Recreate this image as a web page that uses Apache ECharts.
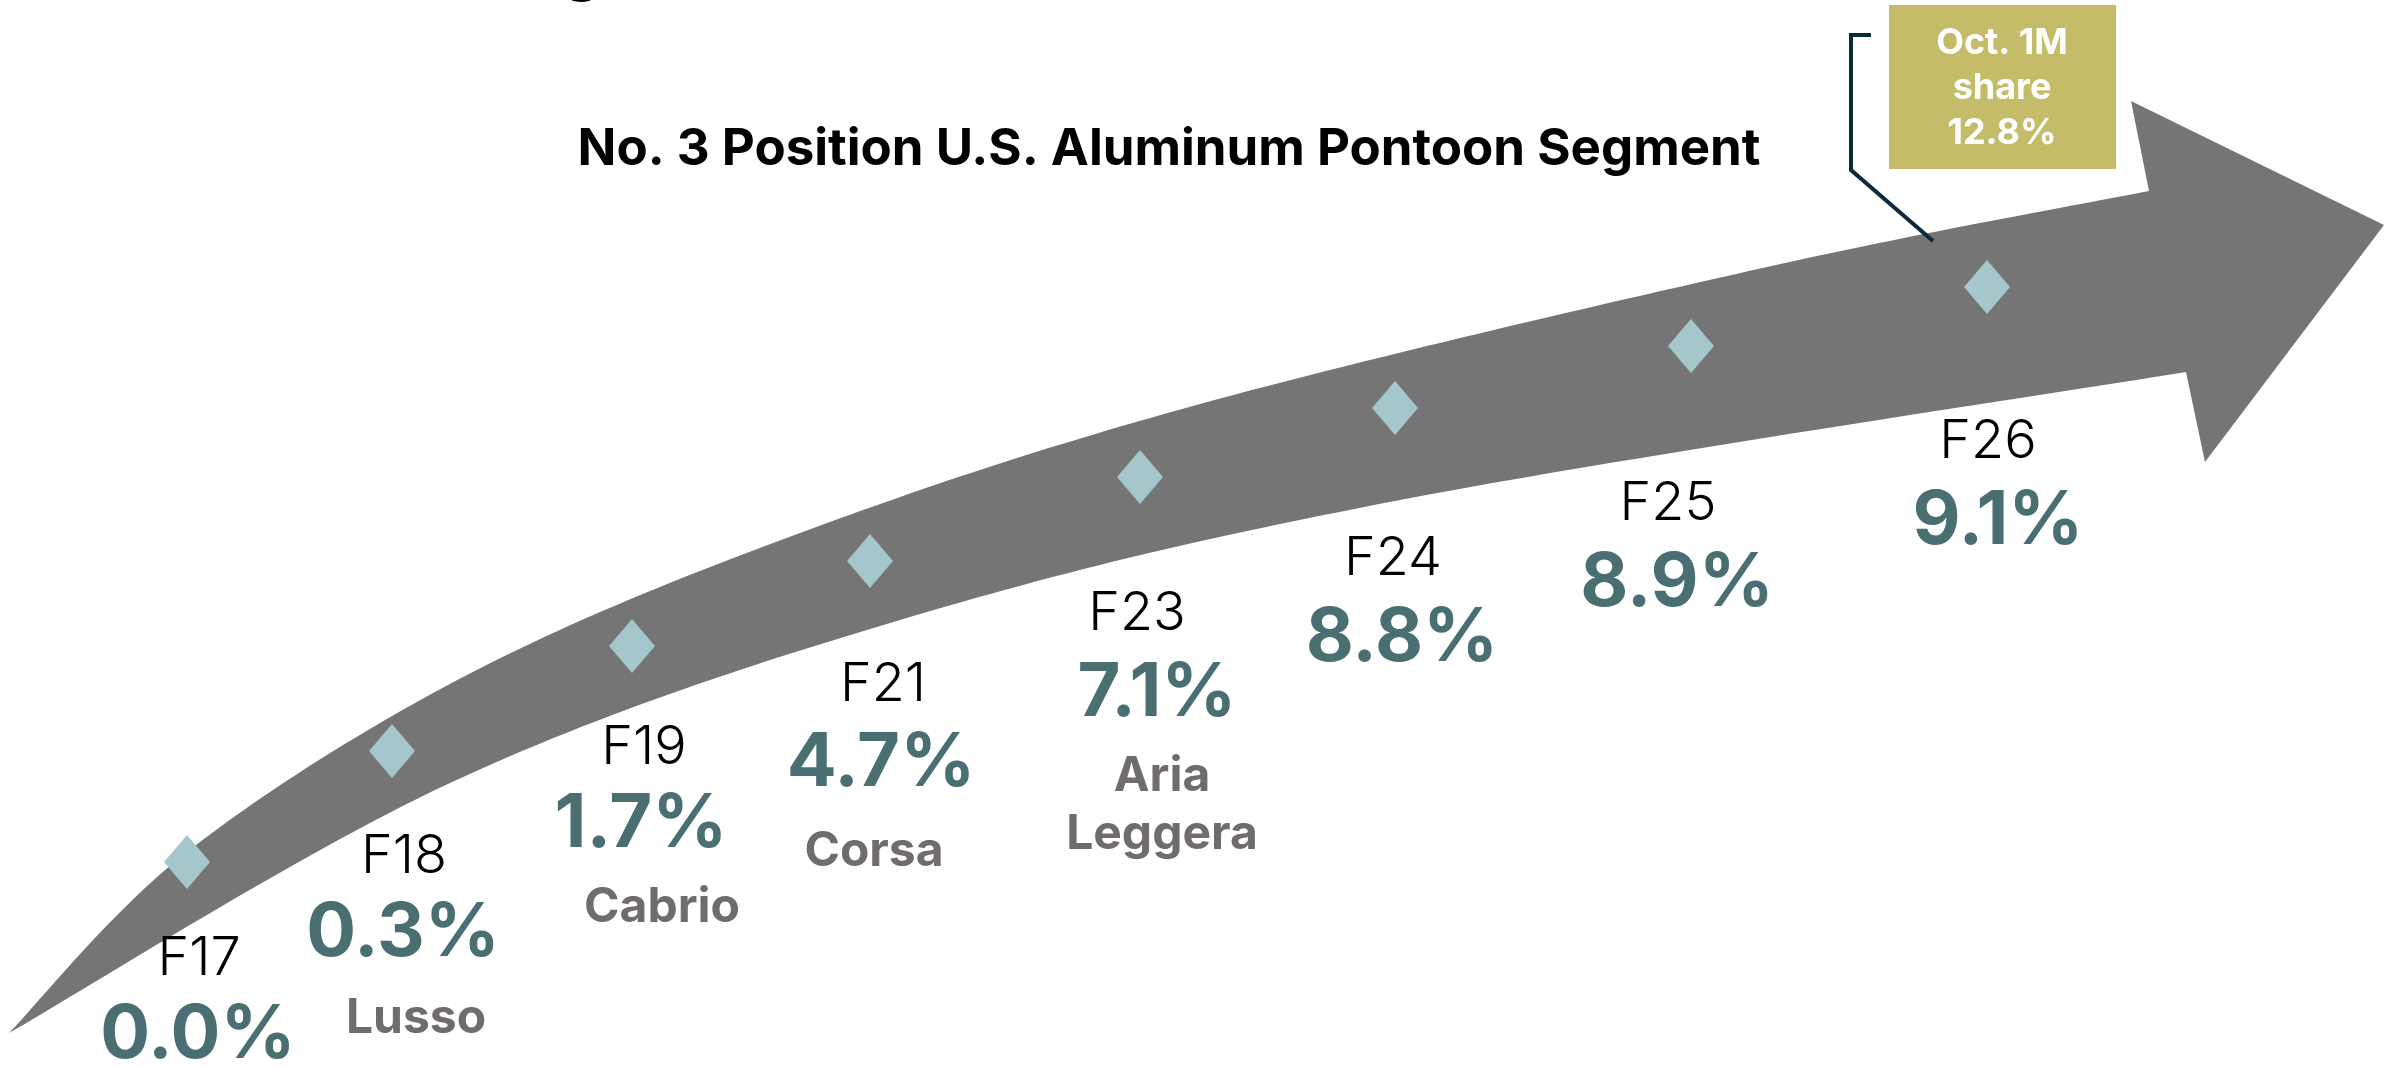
<!DOCTYPE html>
<html><head><meta charset="utf-8">
<script src="https://cdn.jsdelivr.net/npm/echarts@6/dist/echarts.min.js"></script>
<style>html,body{margin:0;padding:0;background:#fff;}#c{width:2394px;height:1068px;}</style>
</head><body><div id="c"></div>
<script>
// ---------- data ----------
const categories = ['F17', 'F18', 'F19', 'F21', 'F23', 'F24', 'F25', 'F26'];
const shares = [0.0, 0.3, 1.7, 4.7, 7.1, 8.8, 8.9, 9.1];
const models = ['', 'Lusso', 'Cabrio', 'Corsa', 'Aria\nLeggera', '', '', ''];
const calloutLabel = ['Oct. 1M', 'share'];
const calloutShare = [12.8];
const titleText = 'No. 3 Position U.S. Aluminum Pontoon Segment';

// ---------- layout (canvas units of the hidden grid) ----------
const W = 2394, H = 1068;
const FONT = 'Inter, "Open Sans", "Noto Sans", sans-serif';
const markerXY = [[187,862],[392,751],[632,646],[870,561],[1140,477],[1395,408],[1691,346],[1987,287]];
const yearXY  = [[199,959],[404,857],[644,748],[883,685],[1137,614],[1393,559],[1668,504],[1988,442]];
const pctXY   = [[198,1036],[403,934],[641,825],[881,764],[1157,694],[1402,639],[1677,584],[1998,522]];
const modelXY = [null,[416,1019],[662,908],[874,852],[1162,806],null,null,null];
const upperEdge = [[9,1033],[187,852],[467,675],[800,533],[1200,404],[1767,267],[2149,191]];
const lowerEdge = [[9,1033],[450,783],[900,620],[1400,500],[2186,372]];
const arrowHead = [[2131,101],[2384,225],[2205,462]];
const calloutBox = {x0:1889, y0:5, x1:2116, y1:169};
const calloutTextXY = [2002, 88];
const leader = [[1871,35],[1851,35],[1851,170],[1933,241]];

function spline(pts, n) {
  const out = [];
  for (let i = 0; i < pts.length - 1; i++) {
    const p0 = pts[Math.max(i - 1, 0)], p1 = pts[i], p2 = pts[i + 1], p3 = pts[Math.min(i + 2, pts.length - 1)];
    for (let k = 0; k < n; k++) {
      const t = k / n, t2 = t * t, t3 = t2 * t;
      const f = (a, b, c, d) => 0.5 * ((2 * b) + (-a + c) * t + (2 * a - 5 * b + 4 * c - d) * t2 + (-a + 3 * b - 3 * c + d) * t3);
      out.push([f(p0[0], p1[0], p2[0], p3[0]), f(p0[1], p1[1], p2[1], p3[1])]);
    }
  }
  out.push(pts[pts.length - 1]);
  return out;
}
const arrowOutline = spline(upperEdge, 30).concat(arrowHead, spline(lowerEdge, 30).reverse());

const chart = echarts.init(document.getElementById('c'), null, {renderer: 'canvas'});
chart.setOption({
  animation: false,
  backgroundColor: '#ffffff',
  grid: {left: 0, right: 0, top: 0, bottom: 0},
  xAxis: {type: 'value', min: 0, max: W, show: false},
  yAxis: {type: 'value', min: 0, max: H, inverse: true, show: false},
  graphic: [
    {type: 'text', x: 1169, y: 150, z: 10, style: {text: titleText, fontFamily: FONT, fontWeight: 'bold', fontSize: 51, fill: '#000', align: 'center', verticalAlign: 'middle'}},
    {type: 'text', x: 582, y: -34, z: 10, style: {text: 'g', fontFamily: FONT, fontWeight: 'bold', fontSize: 70, fill: '#000', align: 'center', verticalAlign: 'middle'}}
  ],
  series: [
    {
      type: 'custom', name: 'arrow', z: 1, silent: true,
      data: [[0, 0]],
      renderItem: function (params, api) {
        return {type: 'polygon', shape: {points: arrowOutline.map(p => api.coord(p))}, style: {fill: '#757575'}};
      }
    },
    {
      type: 'scatter', name: 'markers', z: 3, silent: true,
      symbol: 'diamond', symbolSize: [46, 54],
      itemStyle: {color: '#a5c7cb', opacity: 1},
      data: markerXY
    },
    {
      type: 'custom', name: 'labels', z: 4, silent: true,
      data: categories.map((c, i) => [i]),
      renderItem: function (params, api) {
        const i = params.dataIndex;
        const kids = [];
        const y = api.coord(yearXY[i]);
        kids.push({type: 'text', x: y[0], y: y[1], style: {text: categories[i], fontFamily: FONT, fontWeight: 300, fontSize: 54, fill: '#000', align: 'center', verticalAlign: 'middle'}});
        const p = api.coord(pctXY[i]);
        kids.push({type: 'text', x: p[0], y: p[1], style: {text: shares[i].toFixed(1) + '%', fontFamily: FONT, fontWeight: 'bold', fontSize: 74, fill: '#4a6f72', align: 'center', verticalAlign: 'middle'}});
        if (models[i]) {
          const m = api.coord(modelXY[i]);
          kids.push({type: 'text', x: m[0], y: m[1], style: {text: models[i], fontFamily: FONT, fontWeight: 'bold', fontSize: 48, lineHeight: 58, fill: '#706c6c', align: 'center', verticalAlign: 'middle'}});
        }
        return {type: 'group', children: kids};
      }
    },
    {
      type: 'custom', name: 'callout', z: 5, silent: true,
      data: calloutShare,
      renderItem: function (params, api) {
        const a = api.coord([calloutBox.x0, calloutBox.y0]);
        const b = api.coord([calloutBox.x1, calloutBox.y1]);
        const t = api.coord(calloutTextXY);
        return {type: 'group', children: [
          {type: 'polyline', shape: {points: leader.map(q => api.coord(q))}, style: {stroke: '#0c2a3a', lineWidth: 4, fill: null, lineJoin: 'miter'}},
          {type: 'rect', shape: {x: a[0], y: a[1], width: b[0] - a[0], height: b[1] - a[1]}, style: {fill: '#c5bc6a'}},
          {type: 'text', x: t[0], y: t[1], style: {text: calloutLabel.concat([calloutShare[0].toFixed(1) + '%']).join('\n'), fontFamily: FONT, fontWeight: 'bold', fontSize: 36, lineHeight: 45, fill: '#ffffff', align: 'center', verticalAlign: 'middle'}}
        ]};
      }
    }
  ]
});
</script>
</body></html>
